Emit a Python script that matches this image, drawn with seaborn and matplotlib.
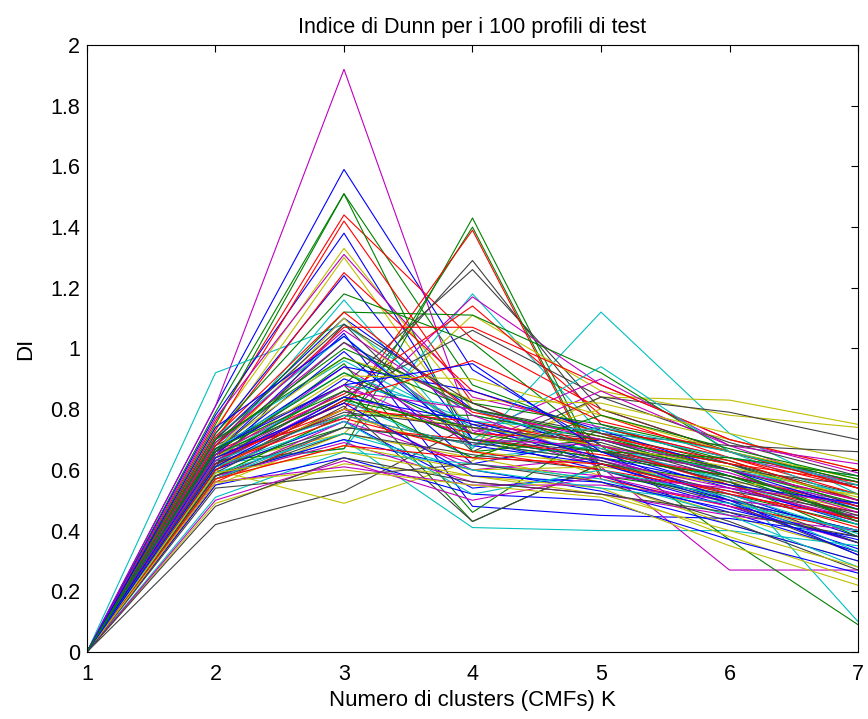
import numpy as np
import pandas as pd
import matplotlib
matplotlib.use("Agg")
import matplotlib.pyplot as plt
from matplotlib.ticker import FuncFormatter
import seaborn as sns

# Numero di clusters K
k_values = [1, 2, 3, 4, 5, 6, 7]

# DI value of each profile at K = 1 (all start at zero)
di_k1 = [0.0] * 100

# DI per profile at K = 2 .. 7 (rows: profiles)
di_profiles = [
    [0.81, 1.59, 0.93, 0.68, 0.55, 0.42],
    [0.79, 1.51, 0.88, 0.72, 0.62, 0.50],
    [0.76, 1.44, 1.03, 0.80, 0.66, 0.55],
    [0.92, 1.08, 0.78, 0.70, 0.62, 0.47],
    [0.81, 1.92, 0.73, 0.66, 0.58, 0.49],
    [0.74, 1.33, 0.80, 0.62, 0.50, 0.36],
    [0.42, 0.53, 0.75, 0.70, 0.62, 0.52],
    [0.78, 1.38, 0.70, 0.64, 0.52, 0.38],
    [0.75, 1.51, 0.66, 0.70, 0.60, 0.44],
    [0.73, 1.42, 0.82, 0.67, 0.55, 0.46],
    [0.62, 0.67, 1.18, 0.72, 0.58, 0.44],
    [0.77, 1.31, 0.84, 0.74, 0.64, 0.56],
    [0.70, 1.30, 0.72, 0.58, 0.45, 0.33],
    [0.64, 0.82, 1.29, 0.75, 0.62, 0.48],
    [0.72, 1.24, 0.70, 0.60, 0.48, 0.34],
    [0.63, 0.67, 1.43, 0.60, 0.50, 0.40],
    [0.70, 1.25, 0.86, 0.72, 0.60, 0.50],
    [0.66, 1.16, 0.67, 1.12, 0.72, 0.52],
    [0.66, 0.77, 1.17, 0.88, 0.70, 0.59],
    [0.60, 0.49, 0.63, 0.84, 0.83, 0.75],
    [0.68, 0.88, 1.26, 0.80, 0.66, 0.56],
    [0.66, 1.05, 0.48, 0.45, 0.44, 0.38],
    [0.61, 0.74, 1.40, 0.58, 0.52, 0.42],
    [0.64, 0.80, 1.39, 0.57, 0.48, 0.40],
    [0.58, 0.70, 0.41, 0.40, 0.40, 0.35],
    [0.62, 0.84, 0.74, 0.61, 0.27, 0.27],
    [0.62, 0.72, 1.11, 0.86, 0.78, 0.74],
    [0.65, 0.84, 1.06, 0.84, 0.79, 0.70],
    [0.70, 1.10, 0.80, 0.66, 0.54, 0.43],
    [0.72, 1.18, 1.02, 0.68, 0.37, 0.09],
    [0.66, 0.85, 1.14, 0.78, 0.64, 0.52],
    [0.70, 0.96, 0.74, 0.66, 0.57, 0.10],
    [0.68, 1.02, 0.72, 0.90, 0.68, 0.54],
    [0.66, 1.10, 0.68, 0.80, 0.70, 0.60],
    [0.61, 1.08, 0.66, 0.84, 0.69, 0.58],
    [0.65, 0.99, 0.62, 0.70, 0.58, 0.48],
    [0.68, 1.12, 1.11, 0.92, 0.66, 0.54],
    [0.68, 1.07, 1.07, 0.88, 0.70, 0.60],
    [0.71, 1.04, 0.70, 0.94, 0.66, 0.50],
    [0.64, 0.94, 0.68, 0.86, 0.68, 0.62],
    [0.67, 0.97, 0.83, 0.82, 0.72, 0.63],
    [0.66, 1.02, 0.80, 0.72, 0.68, 0.66],
    [0.62, 0.90, 0.75, 0.62, 0.50, 0.40],
    [0.64, 0.95, 0.46, 0.74, 0.63, 0.50],
    [0.63, 0.82, 0.72, 0.70, 0.62, 0.56],
    [0.60, 0.83, 0.64, 0.68, 0.56, 0.42],
    [0.60, 0.80, 0.60, 0.64, 0.52, 0.44],
    [0.58, 0.78, 0.66, 0.62, 0.55, 0.47],
    [0.62, 0.86, 0.70, 0.66, 0.60, 0.55],
    [0.60, 0.76, 0.54, 0.58, 0.46, 0.33],
    [0.63, 0.88, 0.43, 0.62, 0.56, 0.38],
    [0.65, 0.78, 0.68, 0.74, 0.64, 0.54],
    [0.64, 0.88, 0.80, 0.67, 0.60, 0.52],
    [0.57, 0.76, 0.62, 0.58, 0.48, 0.36],
    [0.55, 0.72, 0.64, 0.56, 0.42, 0.30],
    [0.59, 0.81, 0.43, 0.62, 0.53, 0.46],
    [0.58, 0.70, 0.60, 0.53, 0.42, 0.30],
    [0.60, 0.83, 0.74, 0.68, 0.60, 0.49],
    [0.56, 0.74, 0.70, 0.65, 0.58, 0.48],
    [0.51, 0.66, 0.62, 0.57, 0.45, 0.28],
    [0.58, 0.69, 0.56, 0.52, 0.45, 0.40],
    [0.49, 0.62, 0.58, 0.54, 0.38, 0.24],
    [0.57, 0.72, 0.65, 0.60, 0.49, 0.32],
    [0.55, 0.64, 0.52, 0.50, 0.37, 0.26],
    [0.58, 0.78, 0.78, 0.70, 0.58, 0.44],
    [0.61, 0.80, 0.76, 0.68, 0.55, 0.43],
    [0.57, 0.74, 0.69, 0.63, 0.52, 0.39],
    [0.56, 0.61, 0.55, 0.55, 0.50, 0.45],
    [0.57, 0.68, 0.60, 0.61, 0.56, 0.52],
    [0.54, 0.58, 0.62, 0.56, 0.43, 0.27],
    [0.66, 0.94, 0.86, 0.73, 0.60, 0.47],
    [0.69, 1.00, 0.82, 0.75, 0.66, 0.56],
    [0.71, 1.12, 0.79, 0.71, 0.63, 0.50],
    [0.67, 0.92, 0.76, 0.73, 0.64, 0.58],
    [0.69, 1.06, 0.78, 0.63, 0.54, 0.44],
    [0.64, 0.91, 0.90, 0.78, 0.66, 0.57],
    [0.70, 1.08, 0.82, 0.66, 0.56, 0.44],
    [0.74, 1.04, 0.68, 0.62, 0.49, 0.36],
    [0.66, 0.92, 0.72, 0.66, 0.64, 0.58],
    [0.60, 0.83, 0.96, 0.76, 0.66, 0.54],
    [0.63, 0.78, 0.68, 0.74, 0.66, 0.55],
    [0.63, 0.86, 0.80, 0.70, 0.60, 0.50],
    [0.61, 0.80, 0.74, 0.68, 0.61, 0.51],
    [0.58, 0.74, 0.69, 0.63, 0.51, 0.36],
    [0.67, 0.88, 0.95, 0.66, 0.50, 0.32],
    [0.65, 0.84, 0.64, 0.78, 0.67, 0.57],
    [0.62, 0.77, 0.66, 0.60, 0.53, 0.41],
    [0.59, 0.72, 0.60, 0.54, 0.49, 0.40],
    [0.65, 0.88, 0.70, 0.68, 0.59, 0.46],
    [0.59, 0.66, 0.58, 0.52, 0.40, 0.28],
    [0.62, 0.79, 0.74, 0.69, 0.57, 0.45],
    [0.64, 0.82, 0.58, 0.56, 0.47, 0.37],
    [0.67, 0.86, 0.70, 0.64, 0.58, 0.47],
    [0.57, 0.68, 0.64, 0.62, 0.52, 0.44],
    [0.61, 0.76, 0.52, 0.60, 0.51, 0.33],
    [0.50, 0.63, 0.50, 0.58, 0.54, 0.49],
    [0.56, 0.60, 0.55, 0.51, 0.35, 0.22],
    [0.48, 0.64, 0.56, 0.52, 0.46, 0.38],
    [0.61, 0.84, 0.76, 0.64, 0.55, 0.49],
    [0.70, 0.97, 0.80, 0.71, 0.60, 0.43],
]

y_ticks = [0, 0.2, 0.4, 0.6, 0.8, 1.0, 1.2, 1.4, 1.6, 1.8, 2.0]

# MATLAB 'bgrcmyk' colour cycle
cycle = [(0, 0, 1), (0, 0.5, 0), (1, 0, 0), (0, 0.75, 0.75),
         (0.75, 0, 0.75), (0.75, 0.75, 0), (0.25, 0.25, 0.25)]

rows = []
for i, prof in enumerate(di_profiles):
    vals = [di_k1[i]] + prof
    for k, v in zip(k_values, vals):
        rows.append({"profile": i, "K": k, "DI": v})
df = pd.DataFrame(rows)
palette = [cycle[i % 7] for i in range(len(di_profiles))]

sns.set_theme(style="white")
plt.rcParams["font.family"] = ["Liberation Sans", "DejaVu Sans"]

fig = plt.figure(figsize=(8.68, 7.19), dpi=100)
ax = fig.add_axes([0.1002, 0.0932, 0.8883, 0.8442])

sns.lineplot(data=df, x="K", y="DI", hue="profile", palette=palette,
             legend=False, linewidth=0.8, estimator=None, sort=False, ax=ax)

ax.set_xlim(1, 7)
ax.set_ylim(0, 2)
ax.set_xticks(k_values)
ax.set_yticks(y_ticks)
ax.yaxis.set_major_formatter(FuncFormatter(lambda v, p: f"{v:g}"))
ax.tick_params(direction="in", length=5, width=0.8, top=True, right=True,
               labelsize=15.5, colors="black")
ax.tick_params(axis="x", pad=9)
ax.tick_params(axis="y", pad=5)
for s in ax.spines.values():
    s.set_color("black")
    s.set_linewidth(0.8)
ax.set_xlabel("Numero di clusters (CMFs) K", fontsize=16, color="black", labelpad=3)
ax.set_ylabel("DI", fontsize=16, color="black", labelpad=10)
ax.set_title("Indice di Dunn per i 100 profili di test", fontsize=15.5,
             color="black", pad=9)

fig.savefig("out.png", dpi=100, facecolor="white")
